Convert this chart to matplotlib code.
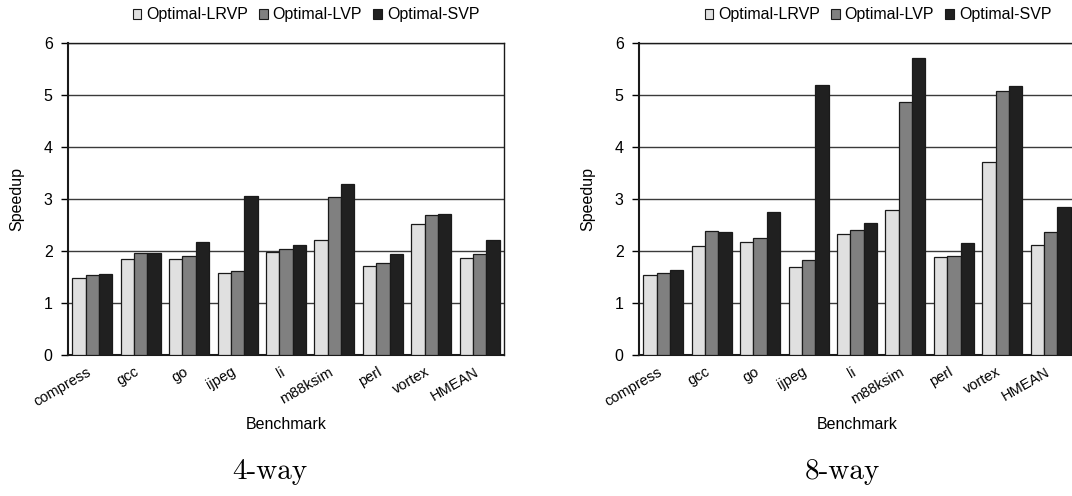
import matplotlib
matplotlib.use("Agg")
import matplotlib.pyplot as plt
import matplotlib.transforms as mtransforms
import numpy as np
from matplotlib.patches import Patch

benchmarks = ["compress", "gcc", "go", "ijpeg", "li", "m88ksim", "perl", "vortex", "HMEAN"]
series_names = ["Optimal-LRVP", "Optimal-LVP", "Optimal-SVP"]

way4_lrvp = [1.49, 1.85, 1.85, 1.58, 1.99, 2.22, 1.72, 2.51, 1.86]
way4_lvp = [1.53, 1.96, 1.90, 1.61, 2.04, 3.04, 1.76, 2.70, 1.95]
way4_svp = [1.56, 1.96, 2.17, 3.06, 2.11, 3.29, 1.95, 2.72, 2.22]

way8_lrvp = [1.53, 2.10, 2.17, 1.69, 2.32, 2.79, 1.88, 3.71, 2.12]
way8_lvp = [1.58, 2.38, 2.25, 1.82, 2.40, 4.86, 1.91, 5.07, 2.36]
way8_svp = [1.63, 2.36, 2.75, 5.20, 2.54, 5.71, 2.16, 5.17, 2.84]

titles = ["4-way", "8-way"]
yticks = [0, 1, 2, 3, 4, 5, 6]

colors = ["#e0e0e0", "#808080", "#202020"]

plt.rcParams['font.family'] = ['Liberation Sans', 'DejaVu Sans']

fig = plt.figure(figsize=(10.72, 4.96), dpi=100)
W, H = 1072, 496
axes_boxes = [(68, 43, 436, 312), (639, 43, 436, 312)]
title_x = [270, 842]
legend_x = [306, 878]

datasets = [(way4_lrvp, way4_lvp, way4_svp), (way8_lrvp, way8_lvp, way8_svp)]

for i, (box, data) in enumerate(zip(axes_boxes, datasets)):
    x0, y0, w, h = box
    ax = fig.add_axes([x0 / W, (H - y0 - h) / H, w / W, h / H])
    x = np.arange(len(benchmarks))
    bw = 0.275
    for j, vals in enumerate(data):
        ax.bar(x + (j - 1) * bw, vals, width=bw, color=colors[j],
               edgecolor="#1a1a1a", linewidth=0.9, zorder=3)
    ax.set_xlim(-0.5, len(benchmarks) - 0.5)
    ax.set_ylim(0, 6)
    ax.set_yticks(yticks)
    ax.set_yticklabels([str(t) for t in yticks], fontsize=11.5)
    ax.yaxis.grid(True, color="#3a3a3a", linewidth=1.0, zorder=0)
    ax.set_axisbelow(True)
    ax.set_xticks(x)
    ax.set_xticklabels(benchmarks, rotation=30, ha="right", rotation_mode="anchor", fontsize=10.5)
    ax.tick_params(axis="x", length=0, pad=7)
    shift = mtransforms.ScaledTranslation(-6 / 100, 0, fig.dpi_scale_trans)
    for lbl in ax.get_xticklabels():
        lbl.set_transform(lbl.get_transform() + shift)
    ax.tick_params(axis="y", length=5, width=1, direction="out", pad=6)
    for s in ax.spines.values():
        s.set_linewidth(1.0)
        s.set_color("#1a1a1a")
    ax.spines["left"].set_linewidth(1.5)
    ax.spines["bottom"].set_linewidth(1.5)
    ax.set_ylabel("Speedup", fontsize=11.5, labelpad=14)
    ax.set_xlabel("Benchmark", fontsize=11.5, labelpad=6)

    handles = [Patch(facecolor=colors[k], edgecolor="#1a1a1a", linewidth=0.8) for k in range(3)]
    fig.legend(handles, series_names, loc="center", bbox_to_anchor=(legend_x[i] / W, 1 - 15 / H),
               ncol=3, frameon=False, fontsize=11.5, handlelength=0.55, handleheight=0.55,
               handletextpad=0.3, columnspacing=0.7, borderaxespad=0)

    fig.text(title_x[i] / W, 1 - 472 / H, titles[i], ha="center", va="center",
             fontsize=21, family="cmr10")

fig.savefig("out.png", dpi=100)
